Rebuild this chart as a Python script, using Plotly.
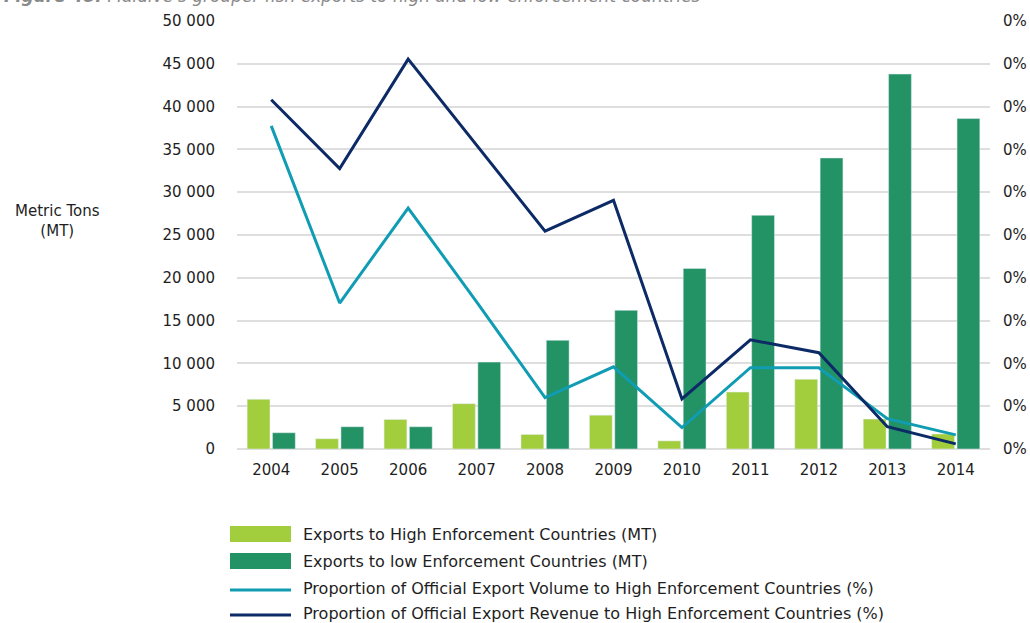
import plotly.graph_objects as go

years = ["2004", "2005", "2006", "2007", "2008", "2009", "2010", "2011", "2012", "2013", "2014"]
high_enf_mt = [5800, 1200, 3450, 5300, 1700, 3950, 950, 6650, 8150, 3500, 1750]
low_enf_mt = [1900, 2600, 2600, 10150, 12700, 16200, 21100, 27300, 34000, 43800, 38600]
vol_share = [0.755, 0.341, 0.563, 0.344, 0.120, 0.192, 0.050, 0.190, 0.190, 0.071, 0.033]
rev_share = [0.816, 0.655, 0.911, 0.710, 0.509, 0.581, 0.117, 0.255, 0.225, 0.052, 0.012]

left_ticks = [0, 5000, 10000, 15000, 20000, 25000, 30000, 35000, 40000, 45000, 50000]
left_ticktext = ["0", "5 000", "10 000", "15 000", "20 000", "25 000", "30 000", "35 000", "40 000", "45 000", "50 000"]
right_ticks = [0, 0.1, 0.2, 0.3, 0.4, 0.5, 0.6, 0.7, 0.8, 0.9, 1.0]
right_ticktext = ["0%"] * 11

names = [
    "Exports to High Enforcement Countries (MT)",
    "Exports to low Enforcement Countries (MT)",
    "Proportion of Official Export Volume to High Enforcement Countries (%)",
    "Proportion of Official Export Revenue to High Enforcement Countries (%)",
]
C_LIGHT = "#a2cd3c"
C_DARK = "#239264"
C_TEAL = "#109db4"
C_NAVY = "#0c2a66"
FONT = "DejaVu Sans"
TXT = "#1e1e1e"

W, H = 1030, 623
L, R, T, B = 237, 40, 21, 174
pw, ph = W - L - R, H - T - B

def px(x):
    return (x - L) / pw

def py(y):
    return (H - B - y) / ph

fig = go.Figure()
fig.add_trace(go.Bar(x=years, y=high_enf_mt, name=names[0], marker_color=C_LIGHT, showlegend=False))
fig.add_trace(go.Bar(x=years, y=low_enf_mt, name=names[1], marker_color=C_DARK, showlegend=False))
fig.add_trace(go.Scatter(x=years, y=vol_share, name=names[2], mode="lines", yaxis="y2",
                         line=dict(color=C_TEAL, width=3), showlegend=False))
fig.add_trace(go.Scatter(x=years, y=rev_share, name=names[3], mode="lines", yaxis="y2",
                         line=dict(color=C_NAVY, width=3), showlegend=False))

shapes = []
annotations = []
# custom legend
rows = [534, 561, 588, 613]
for i, (yy, nm) in enumerate(zip(rows, names)):
    if i < 2:
        shapes.append(dict(type="rect", xref="paper", yref="paper",
                           x0=px(230), x1=px(291), y0=py(yy - 8), y1=py(yy + 8),
                           fillcolor=[C_LIGHT, C_DARK][i], line=dict(width=0)))
    else:
        shapes.append(dict(type="line", xref="paper", yref="paper",
                           x0=px(230), x1=px(291), y0=py(yy + 2), y1=py(yy + 2),
                           line=dict(color=[C_TEAL, C_NAVY][i - 2], width=3)))
    annotations.append(dict(xref="paper", yref="paper", x=px(301), y=py(yy), text=nm,
                            showarrow=False, xanchor="left", yanchor="middle",
                            font=dict(family=FONT, size=16, color=TXT)))

annotations.append(dict(xref="paper", yref="paper", x=px(57), y=py(221),
                        text="Metric Tons<br>(MT)", showarrow=False, xanchor="center", yanchor="middle",
                        font=dict(family=FONT, size=15, color=TXT)))
annotations.append(dict(xref="paper", yref="paper", x=px(2), y=py(-4),
                        text="<b><i>Figure 48:</i></b><i> Maldive's grouper fish exports to high and low enforcement countries</i>",
                        showarrow=False, xanchor="left", yanchor="middle",
                        font=dict(family=FONT, size=17, color="#8a8a8a")))

fig.update_layout(
    width=W, height=H,
    margin=dict(l=L, r=R, t=T, b=B, autoexpand=False),
    paper_bgcolor="white", plot_bgcolor="white",
    barmode="group", bargap=0.26, bargroupgap=0.1,
    font=dict(family=FONT, size=15, color=TXT),
    xaxis=dict(type="category", showgrid=False, showline=False, ticks="", zeroline=False,
               tickfont=dict(family=FONT, size=15, color=TXT), ticklabelstandoff=10),
    yaxis=dict(range=[0, 50000], tickvals=left_ticks, ticktext=left_ticktext,
               showgrid=True, gridcolor="#dedede", gridwidth=2, zeroline=True,
               zerolinecolor="#dedede", zerolinewidth=2, showline=False, ticks="",
               tickfont=dict(family=FONT, size=15, color=TXT), ticklabelstandoff=21),
    yaxis2=dict(range=[0, 1], overlaying="y", side="right", tickvals=right_ticks,
                ticktext=right_ticktext, showgrid=False, zeroline=False, showline=False,
                ticks="", tickfont=dict(family=FONT, size=15, color=TXT), ticklabelstandoff=12),
    shapes=shapes, annotations=annotations,
)

fig.write_html("out.html")
